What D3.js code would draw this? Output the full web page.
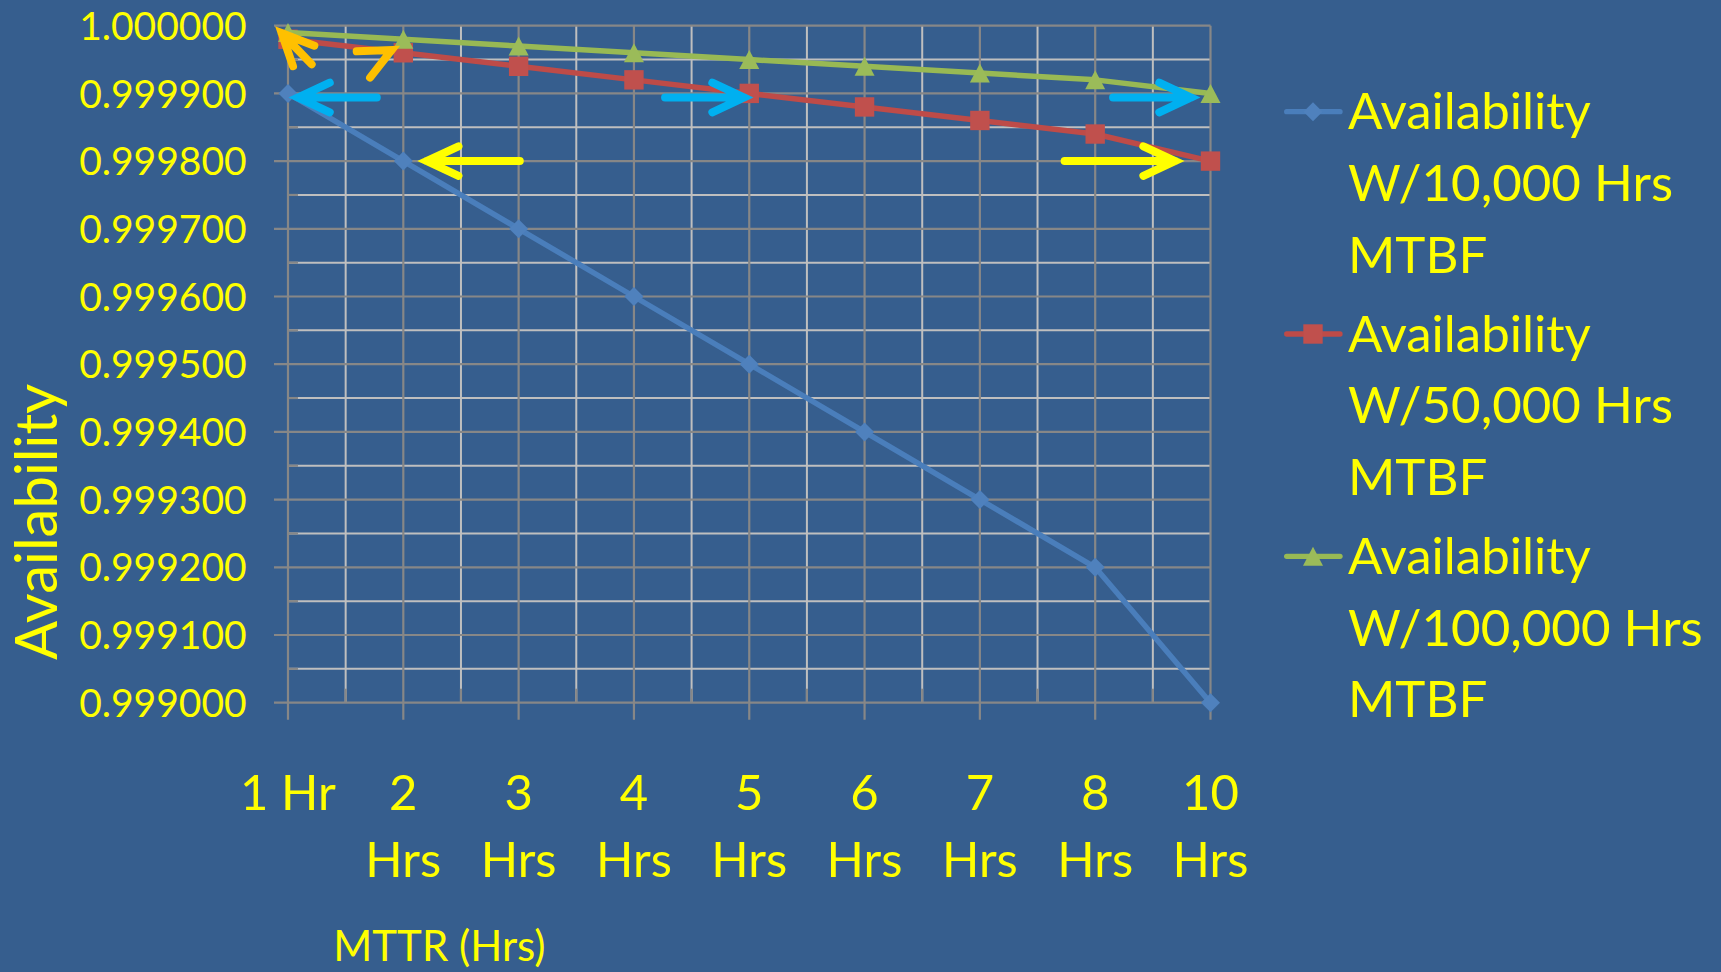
<!DOCTYPE html>
<html>
<head>
<meta charset="utf-8">
<script src="https://cdn.jsdelivr.net/npm/d3@7"></script>
<style>
  html, body { margin: 0; padding: 0; background: #365E8E; }
  svg { display: block; }
  text { font-family: Lato, "Open Sans", sans-serif; fill: #FFFF00; }
</style>
</head>
<body>
<svg id="chart" width="1721" height="972"></svg>
<script>
// ---------------- data ----------------
const categories = ["1 Hr", "2 Hrs", "3 Hrs", "4 Hrs", "5 Hrs", "6 Hrs", "7 Hrs", "8 Hrs", "10 Hrs"];
const xTickLines = [["1 Hr"], ["2", "Hrs"], ["3", "Hrs"], ["4", "Hrs"], ["5", "Hrs"], ["6", "Hrs"], ["7", "Hrs"], ["8", "Hrs"], ["10", "Hrs"]];
const avail10k  = [0.99990, 0.99980, 0.99970, 0.99960, 0.99950, 0.99940, 0.99930, 0.99920, 0.99900];
const avail50k  = [0.99998, 0.99996, 0.99994, 0.99992, 0.99990, 0.99988, 0.99986, 0.99984, 0.99980];
const avail100k = [0.99999, 0.99998, 0.99997, 0.99996, 0.99995, 0.99994, 0.99993, 0.99992, 0.99990];
const seriesNames = [
  ["Availability", "W/10,000 Hrs", "MTBF"],
  ["Availability", "W/50,000 Hrs", "MTBF"],
  ["Availability", "W/100,000 Hrs", "MTBF"]
];
const yTicks = [0.9990, 0.9991, 0.9992, 0.9993, 0.9994, 0.9995, 0.9996, 0.9997, 0.9998, 0.9999, 1.0000];
const yMinorTicks = [0.99905, 0.99915, 0.99925, 0.99935, 0.99945, 0.99955, 0.99965, 0.99975, 0.99985, 0.99995];
const yTitle = "Availability";
const xTitle = "MTTR (Hrs)";
// annotation arrows in data units: [category index, availability]
const arrowTail = [[0.77, 0.999894], [2.01, 0.9998], [3.27, 0.999894], [7.155, 0.999894], [6.735, 0.9998], [0.205, 0.999943], [0.587, 0.999937]];
const arrowTip  = [[0.087, 0.999894], [1.203, 0.9998], [3.955, 0.999894], [7.831, 0.999894], [7.693, 0.9998], [-0.055, 0.999989], [0.899, 0.999964]];
const arrowKind = ["cyan", "yellow", "cyan", "cyan", "yellow", "orange", "orange"];
const arrowShaft = [true, true, true, true, true, true, false];

// ---------------- layout / style ----------------
const W = 1721, H = 972;
const plot = { left: 288, right: 1210.5, top: 25.7, bottom: 702.7 };
const colors = {
  line: ["#4A7EBB", "#BE4B48", "#98B954"],
  marker: ["#4F81BD", "#C0504D", "#9BBB59"],
  gridMajor: "#878787",
  gridMinor: "#BFBFBF",
  arrow: { cyan: "#00B0F0", yellow: "#FFFF00", orange: "#FFC000" }
};

const svg = d3.select("#chart");
svg.append("rect").attr("width", W).attr("height", H).attr("fill", "#365E8E");

const x = d3.scaleLinear().domain([0, categories.length - 1]).range([plot.left, plot.right]);
const y = d3.scaleLinear().domain([0.999, 1.0]).range([plot.bottom, plot.top]);

const idx = d3.range(categories.length);
const xMinor = idx.slice(0, -1).map(i => i + 0.5);

// minor gridlines
const g = svg.append("g");
g.selectAll(".hminor").data(yMinorTicks).join("line")
  .attr("x1", plot.left).attr("x2", plot.right)
  .attr("y1", d => y(d)).attr("y2", d => y(d))
  .attr("stroke", colors.gridMinor).attr("stroke-width", 2);
g.selectAll(".vminor").data(xMinor).join("line")
  .attr("x1", d => x(d)).attr("x2", d => x(d))
  .attr("y1", plot.top).attr("y2", plot.bottom)
  .attr("stroke", colors.gridMinor).attr("stroke-width", 2);
// minor tick marks (inside)
g.selectAll(".hminort").data(yMinorTicks).join("line")
  .attr("x1", plot.left).attr("x2", plot.left + 10)
  .attr("y1", d => y(d)).attr("y2", d => y(d))
  .attr("stroke", colors.gridMajor).attr("stroke-width", 2.2);
g.selectAll(".vminort").data(xMinor).join("line")
  .attr("x1", d => x(d)).attr("x2", d => x(d))
  .attr("y1", plot.bottom - 14).attr("y2", plot.bottom)
  .attr("stroke", colors.gridMajor).attr("stroke-width", 2.2);
// major gridlines
g.selectAll(".hmajor").data(yTicks).join("line")
  .attr("x1", plot.left - 14).attr("x2", plot.right)
  .attr("y1", d => y(d)).attr("y2", d => y(d))
  .attr("stroke", colors.gridMajor).attr("stroke-width", 2.2);
g.selectAll(".vmajor").data(idx).join("line")
  .attr("x1", d => x(d)).attr("x2", d => x(d))
  .attr("y1", plot.top).attr("y2", plot.bottom + 17)
  .attr("stroke", colors.gridMajor).attr("stroke-width", 2.2);

// y tick labels via axis
const yFont = 39;
const yAxis = d3.axisLeft(y).tickValues(yTicks).tickFormat(d3.format(".6f")).tickSize(0).tickPadding(41.3);
const ya = svg.append("g").attr("transform", `translate(${plot.left},0)`).call(yAxis);
ya.select(".domain").remove();
ya.selectAll("text").attr("font-size", yFont).attr("fill", "#FFFF00")
  .attr("font-family", "Lato").attr("dy", "0.35em");

// x tick labels
const xFont = 49;
const xl = svg.append("g");
xTickLines.forEach((lines, i) => {
  const t = xl.append("text").attr("text-anchor", "middle").attr("font-size", xFont)
    .attr("x", x(i)).attr("y", 810);
  lines.forEach((ln, j) => {
    t.append("tspan").attr("x", x(i)).attr("dy", j === 0 ? 0 : 67).text(ln);
  });
});

// axis titles
svg.append("text").attr("font-size", 58).attr("text-anchor", "middle")
  .attr("transform", `translate(57,522) rotate(-90)`).text(yTitle);
svg.append("text").attr("font-size", 42).attr("x", 333.3).attr("y", 961).text(xTitle);

// series
const seriesData = [avail10k, avail50k, avail100k];
const markerPath = [
  "M0,-9.5L9.5,0L0,9.5L-9.5,0Z",
  "M-9.7,-9.7H9.7V9.7H-9.7Z",
  "M0,-9.5L10,9.5L-10,9.5Z"
];
const line = d3.line().x((d, i) => x(i)).y(d => y(d));
seriesData.forEach((vals, s) => {
  const sg = svg.append("g");
  sg.append("path").datum(vals).attr("d", line)
    .attr("fill", "none").attr("stroke", colors.line[s]).attr("stroke-width", 5.5)
    .attr("stroke-linejoin", "round").attr("stroke-linecap", "round");
  sg.selectAll("path.m").data(vals).join("path").attr("class", "m")
    .attr("d", markerPath[s])
    .attr("transform", (d, i) => `translate(${x(i)},${y(d)})`)
    .attr("fill", colors.marker[s]);
});

// legend
const lg = svg.append("g");
const legendFont = 51;
seriesNames.forEach((lines, s) => {
  const base = 129.4 + s * 222.3;
  const sy = base - 17.7;
  lg.append("line").attr("x1", 1286.7).attr("x2", 1340).attr("y1", sy).attr("y2", sy)
    .attr("stroke", colors.line[s]).attr("stroke-width", 5.3).attr("stroke-linecap", "round");
  lg.append("path").attr("d", markerPath[s]).attr("transform", `translate(1313,${sy})`)
    .attr("fill", colors.marker[s]);
  const t = lg.append("text").attr("font-size", legendFont).attr("x", 1348).attr("y", base);
  lines.forEach((ln, j) => t.append("tspan").attr("x", 1348).attr("dy", j === 0 ? 0 : 71.6).text(ln));
});

// arrows
const ag = svg.append("g");
arrowTip.forEach((tip, k) => {
  const tail = arrowTail[k];
  const tx = x(tip[0]), ty = y(tip[1]);
  const bx = x(tail[0]), by = y(tail[1]);
  const ang = Math.atan2(by - ty, bx - tx);
  const L = 35, a = 25 * Math.PI / 180;
  const p1 = [tx + L * Math.cos(ang + a), ty + L * Math.sin(ang + a)];
  const p2 = [tx + L * Math.cos(ang - a), ty + L * Math.sin(ang - a)];
  let d = `M${p1[0]},${p1[1]}L${tx},${ty}L${p2[0]},${p2[1]}`;
  if (arrowShaft[k]) d += `M${bx},${by}L${tx},${ty}`;
  ag.append("path").attr("d", d).attr("fill", "none")
    .attr("stroke", colors.arrow[arrowKind[k]]).attr("stroke-width", 8)
    .attr("stroke-linecap", "round").attr("stroke-linejoin", "miter");
});
</script>
</body>
</html>
